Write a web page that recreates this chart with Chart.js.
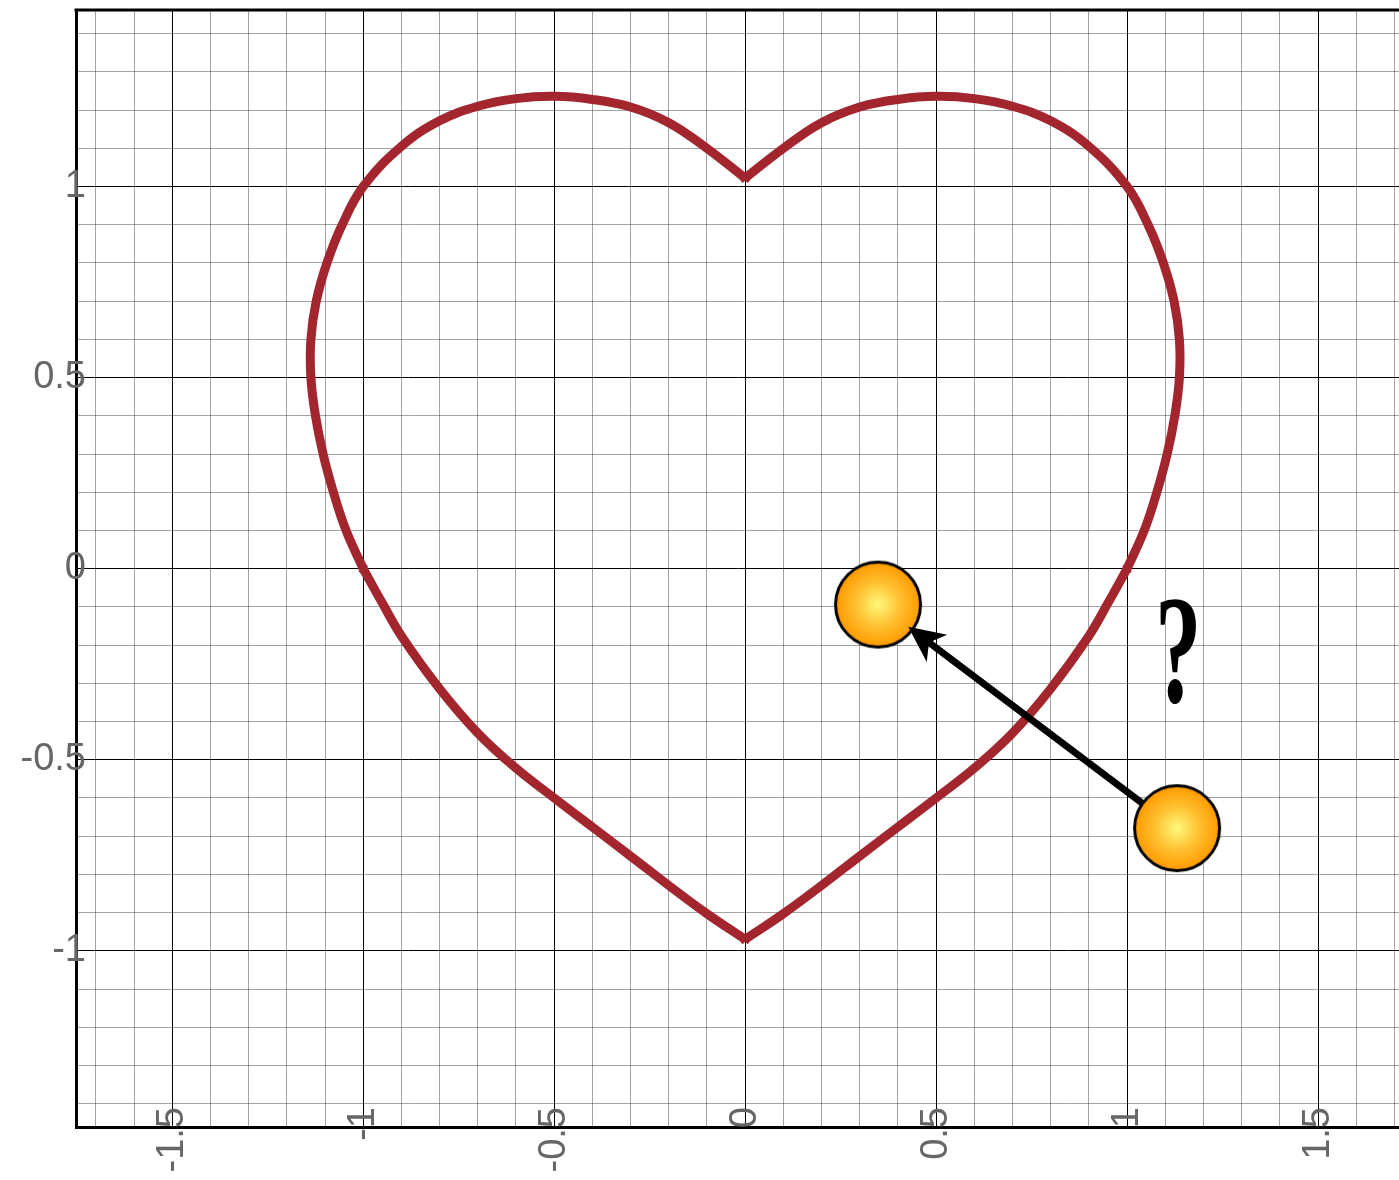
<!DOCTYPE html>
<html>
<head>
<meta charset="utf-8">
<script src="https://cdn.jsdelivr.net/npm/chart.js@4.4.1/dist/chart.umd.min.js"></script>
<style>
  html, body { margin: 0; padding: 0; background: #fff; }
  #wrap { width: 1399px; height: 1180px; }
</style>
</head>
<body>
<div id="wrap"><canvas id="heartChart" width="1399" height="1180"></canvas></div>
<script>
// Heart outline in four pieces: cusp -> left side -> tip -> right side -> cusp
const upperLeftX = [0, -0.1, -0.2, -0.3, -0.4, -0.5, -0.6, -0.7, -0.8, -0.9, -1.0, -1.055, -1.095, -1.123, -1.137, -1.137, -1.125, -1.105, -1.078, -1.045, -1.0];
const upperLeftY = [1.022, 1.1, 1.167, 1.208, 1.228, 1.236, 1.23, 1.21, 1.172, 1.105, 1.0, 0.9, 0.8, 0.7, 0.6, 0.5, 0.4, 0.3, 0.2, 0.1, 0.0];

const lowerLeftX = [-1.0, -0.95, -0.9, -0.8, -0.7, -0.6, -0.5, -0.4, -0.3, -0.2, -0.1, 0];
const lowerLeftY = [0.0, -0.09, -0.176, -0.314, -0.43, -0.522, -0.6, -0.676, -0.752, -0.829, -0.903, -0.97];

const lowerRightX = [0, 0.1, 0.2, 0.3, 0.4, 0.5, 0.6, 0.7, 0.8, 0.9, 0.95, 1.0];
const lowerRightY = [-0.97, -0.903, -0.829, -0.752, -0.676, -0.6, -0.522, -0.43, -0.314, -0.176, -0.09, 0.0];

const upperRightX = [1.0, 1.045, 1.078, 1.105, 1.125, 1.137, 1.137, 1.123, 1.095, 1.055, 1.0, 0.9, 0.8, 0.7, 0.6, 0.5, 0.4, 0.3, 0.2, 0.1, 0];
const upperRightY = [0.0, 0.1, 0.2, 0.3, 0.4, 0.5, 0.6, 0.7, 0.8, 0.9, 1.0, 1.105, 1.172, 1.21, 1.23, 1.236, 1.228, 1.208, 1.167, 1.1, 1.022];

// the two balls and the arrow from the outside one to the inside one
const ballX = [0.348, 1.131];
const ballY = [-0.094, -0.679];
const arrowX = [1.039, 0.427];
const arrowY = [-0.613, -0.152];

// where the question mark sits (baseline, centre)
const markX = 1.134;
const markY = -0.348;

// axes
const xRange = [-1.752, 1.712];
const yRange = [-1.461, 1.462];
const gridStep = 0.1;
const labelStep = 0.5;

const HEART = '#a3262e';
const LABEL_FONT = "38px 'Liberation Sans', Arial, sans-serif";
const LABEL_COLOR = '#666';

function toPoints(xs, ys) {
    return xs.map((x, i) => ({ x: x, y: ys[i] }));
}

function isMajor(v) {
    const k = v / labelStep;
    return Math.abs(k - Math.round(k)) < 1e-6;
}

function tickLabel(v) {
    return String(Math.round(v * 10) / 10);
}

function gridColor(ctx) {
    if (!ctx.tick) return 'rgba(0,0,0,0.36)';
    return isMajor(ctx.tick.value) ? '#000' : 'rgba(0,0,0,0.36)';
}

// orange ball used as a point image
function makeBall(r) {
    const size = 92;
    const c = document.createElement('canvas');
    c.width = size;
    c.height = size;
    const g = c.getContext('2d');
    const m = size / 2;
    const grad = g.createRadialGradient(m, m, 0, m, m, r);
    grad.addColorStop(0, '#fffa7c');
    grad.addColorStop(0.5, '#ffc233');
    grad.addColorStop(1, '#ff9a00');
    g.beginPath();
    g.arc(m, m, r, 0, Math.PI * 2);
    g.fillStyle = grad;
    g.fill();
    g.lineWidth = 3;
    g.strokeStyle = '#000';
    g.stroke();
    return c;
}

function heartPiece(xs, ys) {
    const last = xs.length - 1;
    return {
        data: toPoints(xs, ys),
        showLine: true,
        borderColor: HEART,
        backgroundColor: HEART,
        borderWidth: 9,
        tension: 0.4,
        pointStyle: 'crossRot',
        pointRadius: ctx => (ctx.dataIndex === 0 || ctx.dataIndex === last) ? 5 : 0,
        pointBorderWidth: 3,
        pointBorderColor: HEART,
        order: 2
    };
}

// top frame line, arrow and question mark
const overlay = {
    id: 'overlay',
    afterDatasetsDraw(chart) {
        const { ctx, chartArea, scales } = chart;
        const xs = scales.x, ys = scales.y;

        ctx.save();
        ctx.strokeStyle = '#000';
        ctx.lineWidth = 3;
        ctx.beginPath();
        ctx.moveTo(chartArea.left - 1.5, chartArea.top);
        ctx.lineTo(chartArea.right, chartArea.top);
        ctx.stroke();

        // arrow
        const x0 = xs.getPixelForValue(arrowX[0]), y0 = ys.getPixelForValue(arrowY[0]);
        const x1 = xs.getPixelForValue(arrowX[1]), y1 = ys.getPixelForValue(arrowY[1]);
        const len = Math.hypot(x1 - x0, y1 - y0);
        const ux = (x1 - x0) / len, uy = (y1 - y0) / len;
        const nx = -uy, ny = ux;
        const headLen = 36, headHalf = 17, notch = 26;
        ctx.lineWidth = 7;
        ctx.lineCap = 'butt';
        ctx.beginPath();
        ctx.moveTo(x0, y0);
        ctx.lineTo(x1 - ux * notch, y1 - uy * notch);
        ctx.stroke();
        ctx.fillStyle = '#000';
        ctx.beginPath();
        ctx.moveTo(x1, y1);
        ctx.lineTo(x1 - ux * headLen + nx * headHalf, y1 - uy * headLen + ny * headHalf);
        ctx.lineTo(x1 - ux * notch, y1 - uy * notch);
        ctx.lineTo(x1 - ux * headLen - nx * headHalf, y1 - uy * headLen - ny * headHalf);
        ctx.closePath();
        ctx.fill();

        // question mark
        ctx.translate(xs.getPixelForValue(markX), ys.getPixelForValue(markY));
        ctx.scale(0.6, 1);
        ctx.font = "bold 155px 'Liberation Serif', 'Times New Roman', serif";
        ctx.textAlign = 'center';
        ctx.textBaseline = 'alphabetic';
        ctx.fillText('?', 0, 0);
        ctx.restore();
    }
};

// tick labels sit partly over the plot, so they are drawn here rather than by the scales
const tickText = {
    id: 'tickText',
    afterDraw(chart) {
        const { ctx, chartArea, scales } = chart;
        ctx.save();
        ctx.font = LABEL_FONT;
        ctx.fillStyle = LABEL_COLOR;
        ctx.textBaseline = 'middle';

        ctx.textAlign = 'right';
        scales.y.ticks.filter(t => isMajor(t.value)).forEach(t => {
            ctx.fillText(tickLabel(t.value), chartArea.left + 10, scales.y.getPixelForValue(t.value));
        });

        scales.x.ticks.filter(t => isMajor(t.value)).forEach(t => {
            ctx.save();
            ctx.translate(scales.x.getPixelForValue(t.value), chartArea.bottom - 20);
            ctx.rotate(-Math.PI / 2);
            ctx.textAlign = 'right';
            ctx.fillText(tickLabel(t.value), 0, 0);
            ctx.restore();
        });
        ctx.restore();
    }
};

const ball = makeBall(42.5);

new Chart(document.getElementById('heartChart'), {
    type: 'scatter',
    data: {
        datasets: [
            {
                data: toPoints(ballX, ballY),
                pointStyle: ball,
                pointRadius: 44,
                order: 1
            },
            heartPiece(upperLeftX, upperLeftY),
            heartPiece(lowerLeftX, lowerLeftY),
            heartPiece(lowerRightX, lowerRightY),
            heartPiece(upperRightX, upperRightY)
        ]
    },
    options: {
        responsive: false,
        animation: false,
        devicePixelRatio: 1,
        layout: { autoPadding: false, padding: { top: 10, left: 0, right: 0, bottom: 0 } },
        plugins: {
            legend: { display: false },
            tooltip: { enabled: false }
        },
        scales: {
            x: {
                type: 'linear',
                min: xRange[0],
                max: xRange[1],
                border: { display: true, color: '#000', width: 3 },
                grid: { color: gridColor, lineWidth: 1, drawTicks: false },
                ticks: { display: false, stepSize: gridStep, includeBounds: false, autoSkip: false },
                afterFit: s => { s.height = 53; s.paddingLeft = 0; s.paddingRight = 0; }
            },
            y: {
                type: 'linear',
                min: yRange[0],
                max: yRange[1],
                border: { display: true, color: '#000', width: 3 },
                grid: { color: gridColor, lineWidth: 1, drawTicks: false },
                ticks: { display: false, stepSize: gridStep, includeBounds: false, autoSkip: false },
                afterFit: s => { s.width = 76; s.paddingTop = 0; s.paddingBottom = 0; }
            }
        }
    },
    plugins: [overlay, tickText]
});
</script>
</body>
</html>
